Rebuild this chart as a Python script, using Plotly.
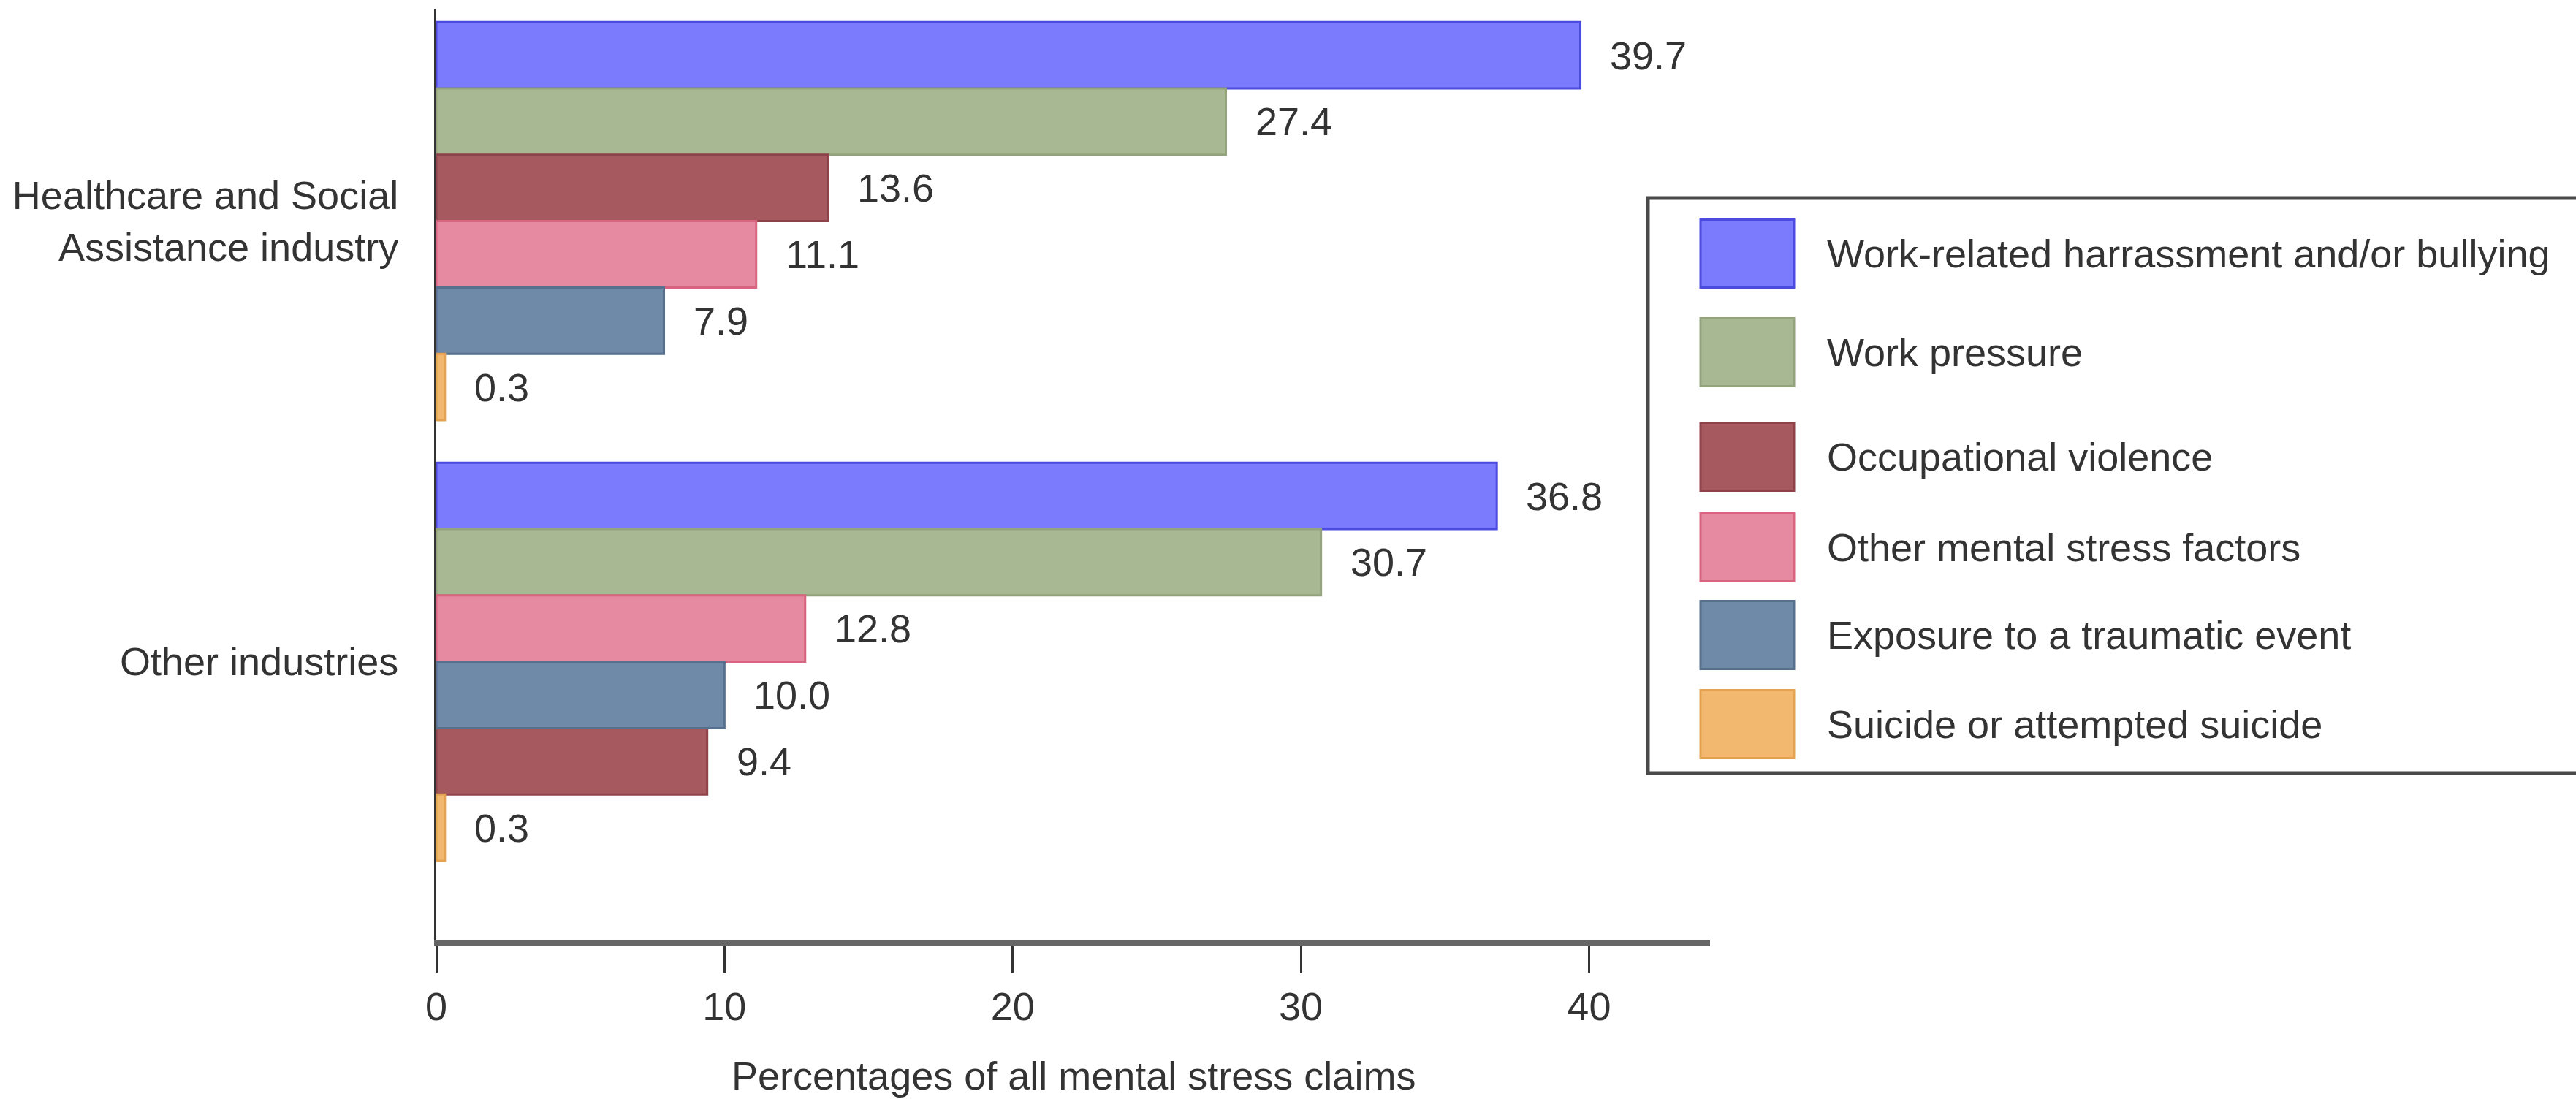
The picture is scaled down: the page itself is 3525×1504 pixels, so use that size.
import plotly.graph_objects as go

# ---- data ----
categories = ["Healthcare and Social<br>Assistance industry", "Other industries"]
series_names = [
    "Work-related harrassment and/or bullying",
    "Work pressure",
    "Occupational violence",
    "Other mental stress factors",
    "Exposure to a traumatic event",
    "Suicide or attempted suicide",
]
healthcare_values = [39.7, 27.4, 13.6, 11.1, 7.9, 0.3]
other_values = [36.8, 30.7, 9.4, 12.8, 10.0, 0.3]
x_ticks = [0, 10, 20, 30, 40]
x_title = "Percentages of all mental stress claims"

# ---- styling ----
fills = ["#7b7bfd", "#a8b892", "#a65a60", "#e68aa1", "#6e8aa8", "#f2b870"]
edges = ["#4b4be0", "#93a47d", "#8e4249", "#d8647f", "#56708d", "#e3a352"]
FONT = "Liberation Sans, Arial, Helvetica, sans-serif"
TXT = "#333333"
FS = 54

W, H = 3525, 1504
PLOT_L, PLOT_R, PLOT_T, PLOT_B = 597, 2340, 12, 1287


def paper_x(px):
    return (px - PLOT_L) / (PLOT_R - PLOT_L)


def paper_y(py):
    return (PLOT_B - py) / (PLOT_B - PLOT_T)


# bar slots: each group stacks its bars by descending value, one unit per bar
group_values = [healthcare_values, other_values]
n_series = len(series_names)
top_pad, group_gap = 0.2, 0.64
group_start = [top_pad + g * (n_series + group_gap) for g in range(len(categories))]

slot = {}
for g, vals in enumerate(group_values):
    order = sorted(range(n_series), key=lambda i: -vals[i])
    for rank, i in enumerate(order):
        slot[(g, i)] = group_start[g] + rank + 0.5

fig = go.Figure()
annotations = []
for i, name in enumerate(series_names):
    xs = [group_values[g][i] for g in range(len(categories))]
    ys = [slot[(g, i)] for g in range(len(categories))]
    fig.add_trace(go.Bar(
        x=xs, y=ys, orientation="h", name=name, width=1.0,
        marker=dict(color=fills[i], line=dict(color=edges[i], width=3)),
        showlegend=False, hoverinfo="x+name",
    ))
    for xv, yv in zip(xs, ys):
        annotations.append(dict(
            x=xv, y=yv, xref="x", yref="y", text=f"{xv:.1f}",
            showarrow=False, xanchor="left", yanchor="middle", xshift=38,
            font=dict(family=FONT, size=FS, color=TXT),
        ))

# axis title
annotations.append(dict(
    x=0.5, y=paper_y(1472), xref="paper", yref="paper", text=x_title,
    showarrow=False, xanchor="center", yanchor="middle",
    font=dict(family=FONT, size=FS, color=TXT),
))

# legend box with large swatches (row centres in pixels)
shapes = [dict(
    type="rect", xref="paper", yref="paper",
    x0=paper_x(2255), x1=paper_x(3560), y0=paper_y(1058), y1=paper_y(271),
    line=dict(color="#4a4a4a", width=5), fillcolor="rgba(0,0,0,0)", layer="above",
)]
legend_rows = [347, 482, 625, 749, 869, 991]
sw_h = 93
for i, name in enumerate(series_names):
    cy = legend_rows[i]
    shapes.append(dict(
        type="rect", xref="paper", yref="paper",
        x0=paper_x(2327), x1=paper_x(2455),
        y0=paper_y(cy + sw_h / 2), y1=paper_y(cy - sw_h / 2),
        fillcolor=fills[i], line=dict(color=edges[i], width=3), layer="above",
    ))
    annotations.append(dict(
        x=paper_x(2498), y=paper_y(cy), xref="paper", yref="paper", text=name,
        showarrow=False, xanchor="left", yanchor="middle",
        font=dict(family=FONT, size=FS, color=TXT),
    ))

total_units = group_start[-1] + n_series + 1.2

fig.update_layout(
    width=W, height=H,
    margin=dict(l=PLOT_L, r=W - PLOT_R, t=PLOT_T, b=H - PLOT_B),
    paper_bgcolor="white", plot_bgcolor="white",
    font=dict(family=FONT, size=FS, color=TXT),
    barmode="overlay", showlegend=False,
    annotations=annotations, shapes=shapes,
    xaxis=dict(
        range=[0, 44.2], tickvals=x_ticks, ticktext=[str(t) for t in x_ticks],
        showgrid=False, zeroline=False,
        showline=True, linecolor="#666666", linewidth=8,
        ticks="outside", ticklen=36, tickwidth=3, tickcolor="#333333",
        tickfont=dict(family=FONT, size=FS, color=TXT),
    ),
    yaxis=dict(
        range=[total_units, 0],
        tickvals=[s + n_series / 2 for s in group_start], ticktext=categories,
        showgrid=False, zeroline=False,
        showline=True, linecolor="#333333", linewidth=3,
        ticks="", ticklabelstandoff=38,
        tickfont=dict(family=FONT, size=FS, color=TXT),
    ),
)

fig.write_html("out.html")
